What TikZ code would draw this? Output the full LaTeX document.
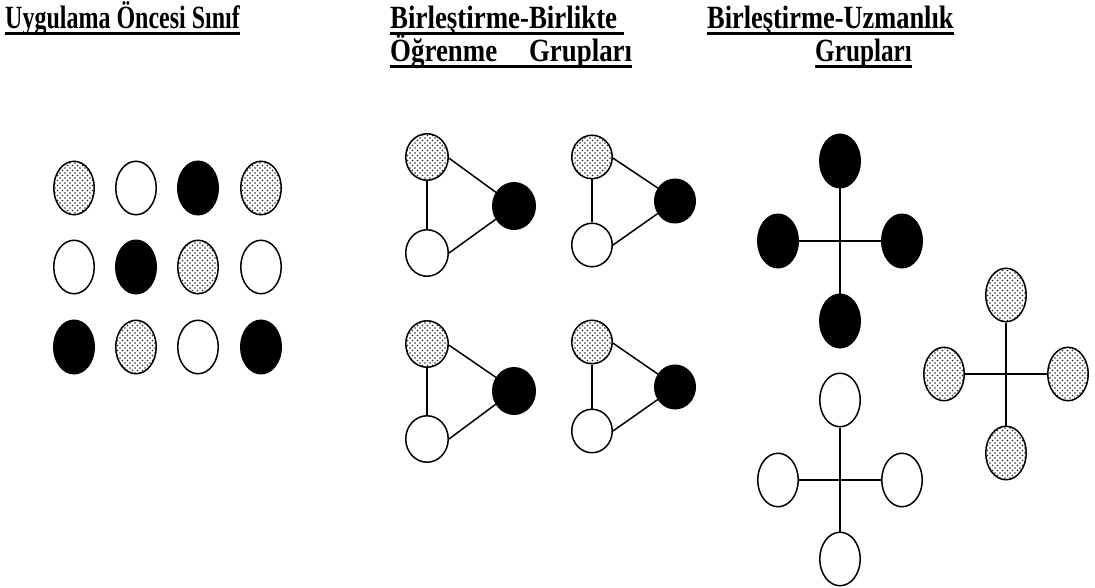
\documentclass[tikz,border=0pt]{standalone}
\usepackage{fontspec}
\setmainfont{Liberation Serif}
\usetikzlibrary{shapes.geometric,patterns}
\pgfdeclarepatternformonly{specks}{\pgfqpoint{-1pt}{-1pt}}{\pgfqpoint{3.6pt}{3.6pt}}{\pgfqpoint{5pt}{5pt}}{%
  \pgfpathcircle{\pgfqpoint{0pt}{0pt}}{0.8pt}%
  \pgfpathcircle{\pgfqpoint{2.5pt}{2.5pt}}{0.8pt}%
  \pgfusepathqfill}
\newcommand\ult[1]{\setbox0\hbox{#1}\rlap{\rule[-4.4pt]{\wd0}{2.2pt}}\box0}
\begin{document}
\begin{tikzpicture}[x=1pt,y=-1pt,
  ttl/.style={anchor=base west, inner sep=0pt, font=\bfseries\fontsize{24}{24}\selectfont},
  ov/.style={ellipse, draw, line width=1.5pt, inner sep=0pt},
  big/.style={ov, minimum width=40.5pt, minimum height=53.5pt},
  trA/.style={ov, minimum width=42.5pt, minimum height=46.5pt},
  trB/.style={ov, minimum width=40.5pt, minimum height=43.5pt},
  dt/.style={pattern=specks, pattern color=black!85},
  bk/.style={fill=black},
  wt/.style={fill=white},
  link/.style={line width=1.5pt}]
\fill[white] (0,0) rectangle (1095,588);
\useasboundingbox (0,0) rectangle (1095,588);
% titles
\node[ttl] (t1) at (5,29) {\scalebox{1}[1.35]{\ult{Uygulama Öncesi Sınıf}}};
\node[ttl] (t2a) at (390,29) {\scalebox{1.12}[1.35]{\ult{Birleştirme-Birlikte\ }}};
\node[ttl] (t2b) at (390,62) {\scalebox{1.12}[1.35]{\ult{\makebox[216pt][s]{Öğrenme\hfill Grupları}}}};
\node[ttl] (t3a) at (707,29) {\scalebox{1.1}[1.35]{\ult{Birleştirme-Uzmanlık}}};
\node[ttl] (t3b) at (815,62) {\scalebox{1.05}[1.35]{\ult{Grupları}}};
% grid
\node[big,dt] (g11) at (74,188) {};
\node[big,wt] (g12) at (136,188) {};
\node[big,bk] (g13) at (198,188) {};
\node[big,dt] (g14) at (261,188) {};
\node[big,wt] (g21) at (74,267) {};
\node[big,bk] (g22) at (136,267) {};
\node[big,dt] (g23) at (198,267) {};
\node[big,wt] (g24) at (261,267) {};
\node[big,bk] (g31) at (74,347) {};
\node[big,dt] (g32) at (136,347) {};
\node[big,wt] (g33) at (198,347) {};
\node[big,bk] (g34) at (261,347) {};
% triangles
\node[trA,dt] (d1) at (427,157) {};
\node[trA,bk] (b1) at (514,206) {};
\node[trA,wt] (w1) at (427,253) {};
\node[trB,dt] (d2) at (592,157) {};
\node[trB,bk] (b2) at (675,201) {};
\node[trB,wt] (w2) at (592,245) {};
\node[trA,dt] (d3) at (427,344) {};
\node[trA,bk] (b3) at (514,391) {};
\node[trA,wt] (w3) at (427,439) {};
\node[trB,dt] (d4) at (592,342) {};
\node[trB,bk] (b4) at (675,387) {};
\node[trB,wt] (w4) at (592,431) {};
\foreach \i in {1,2,3,4}{
  \draw[link] (d\i.south) -- (w\i.north);
  \draw[link] (d\i.-3) -- (b\i.143);
  \draw[link] (w\i.0) -- (b\i.216);
}
% crosses
\node[big,bk] (bt) at (840,161) {};
\node[big,bk] (bl) at (778,241) {};
\node[big,bk] (br) at (902,241) {};
\node[big,bk] (bb) at (840,321) {};
\node[big,wt] (wt) at (840,400) {};
\node[big,wt] (wl) at (778,480) {};
\node[big,wt] (wr) at (902,480) {};
\node[big,wt] (wb) at (840,559) {};
\node[big,dt] (dtp) at (1006,295) {};
\node[big,dt] (dl) at (944,374) {};
\node[big,dt] (dr) at (1068,374) {};
\node[big,dt] (db) at (1006,453) {};
\draw[link] (bt) -- (bb);
\draw[link] (bl) -- (br);
\draw[link] (wt) -- (wb);
\draw[link] (wl) -- (wr);
\draw[link] (dtp) -- (db);
\draw[link] (dl) -- (dr);
\end{tikzpicture}
\end{document}
